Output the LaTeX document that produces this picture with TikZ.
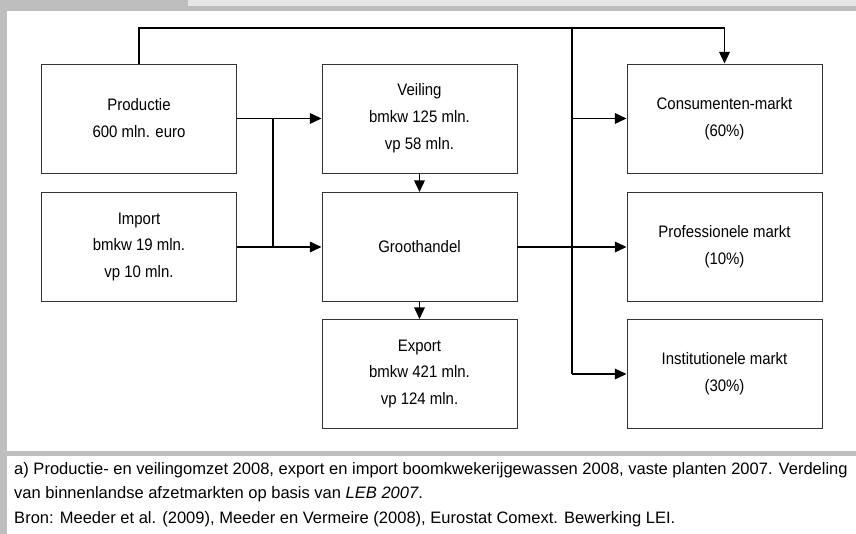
\documentclass[tikz,border=0pt]{standalone}
\usepackage{fontspec}
\setmainfont{Liberation Sans}
\newfontfamily\narrowfont{Liberation Sans}[FakeStretch=0.9]
\usepackage{tikz}
\usetikzlibrary{arrows.meta,calc}
\definecolor{leiBar}{HTML}{BEBEBE}
\definecolor{leiBarLight}{HTML}{E6E6E6}
\definecolor{leiEdge}{HTML}{333333}

\begin{document}
\begin{tikzpicture}[x=0.03cm,y=-0.03cm,
    font=\narrowfont\fontsize{14.2}{23}\selectfont,
    box/.style={draw=leiEdge,line width=0.8pt,fill=white,
                minimum width=5.85cm,minimum height=3.27cm,
                inner sep=0pt,align=center,anchor=center},
    link/.style={line width=1.6pt},
    arr/.style={link,-{Triangle[length=10pt,width=9pt]}},
    note/.style={anchor=base west,inner sep=0pt,
                 font=\rmfamily\fontsize{14.1}{16}\selectfont}]

  \useasboundingbox (0,0) rectangle (856,534);
  % frame of the figure
  \fill[leiBar] (0,0) rectangle (188,11);
  \fill[leiBarLight] (188,0) rectangle (856,6);
  \fill[leiBar] (188,6) rectangle (856,11);
  \fill[leiBar] (0,0) rectangle (7,534);
  \fill[leiBar] (0,451) rectangle (856,456);

  % left column
  \node[box] (prod) at (139,118.5) {Productie\\600 mln. euro};
  \node[box] (imp)  at (139,247) {Import\\bmkw 19 mln.\\vp 10 mln.};
  % middle column
  \node[box] (veil)  at (419.5,118.5) {Veiling\\bmkw 125 mln.\\vp 58 mln.};
  \node[box] (groot) at (419.5,247) {Groothandel};
  \node[box] (exp)   at (419.5,374) {Export\\bmkw 421 mln.\\vp 124 mln.};
  % markets
  \node[box] (cons) at (724.5,118.5) {Consumenten-markt\\(60\%)};
  \node[box] (prof) at (724.5,247) {Professionele markt\\(10\%)};
  \node[box] (inst) at (724.5,374) {Institutionele markt\\(30\%)};

  \coordinate (split)  at (273,0);
  \coordinate (bustop) at (572,28);
  \coordinate (busbot) at (572,374);

  \draw[arr] (prod.east) -- (veil.west);
  \draw[arr] (imp.east) -- (groot.west);
  \draw[link] (split |- prod.east) -- (split |- imp.east);
  \draw[arr] (veil.south) -- (groot.north);
  \draw[arr] (groot.south) -- (exp.north);
  \draw[arr] (prod.north) |- (bustop) -| (cons.north);
  \draw[link] (bustop) -- (busbot);
  \draw[arr] (bustop |- cons.west) -- (cons.west);
  \draw[arr] (groot.east) -- (prof.west);
  \draw[arr] (busbot) -- (inst.west);

  % footnote
  \node[note] (note1) at (14,474) {a) Productie- en veilingomzet 2008, export en import boomkwekerijgewassen 2008, vaste planten 2007. Verdeling};
  \node[note] (note2) at (14,498.5) {van binnenlandse afzetmarkten op basis van \textit{LEB 2007}.};
  \node[note] (src)   at (14,523) {Bron: Meeder et al. (2009), Meeder en Vermeire (2008), Eurostat Comext. Bewerking LEI.};
\end{tikzpicture}
\end{document}
